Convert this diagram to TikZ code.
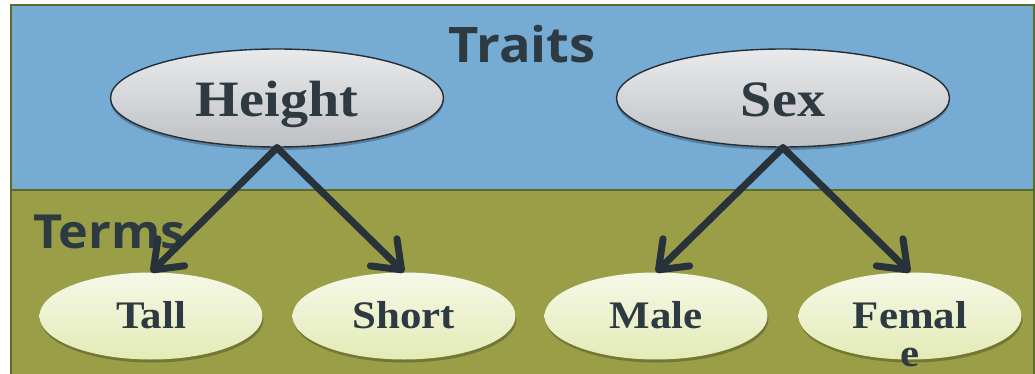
\documentclass[tikz,border=0pt]{standalone}
\usepackage{fontspec}
\newfontfamily\labfont{Open Sans}[FakeStretch=1.07]
\newfontfamily\nodefont{Liberation Serif}[FakeStretch=1.1]
\usetikzlibrary{shapes.geometric,arrows.meta,shadows}
\definecolor{bgblue}{HTML}{76ACD3}
\definecolor{bggreen}{HTML}{9A9E46}
\definecolor{framecol}{HTML}{5C6B2B}
\definecolor{inkcol}{HTML}{2E3A42}
\definecolor{arrowcol}{HTML}{28323A}
\definecolor{greytop}{HTML}{E9EAEC}
\definecolor{greybot}{HTML}{BEC1C4}
\definecolor{limetop}{HTML}{F6F8E8}
\definecolor{limebot}{HTML}{E3EBB5}
\begin{document}
\begin{tikzpicture}[x=1pt,y=-1pt,
  framestyle/.style={draw=framecol,line width=2pt},
  traitnode/.style={ellipse,inner sep=0pt,minimum width=333pt,minimum height=98pt,
    top color=greytop,bottom color=greybot,draw=inkcol!80!black,line width=1.4pt,
    text=inkcol,font=\nodefont\bfseries\fontsize{51}{60}\selectfont,text height=38pt,text depth=0pt,
    drop shadow={shadow xshift=0pt,shadow yshift=-3pt,opacity=0.25,fill=black}},
  termnode/.style={ellipse,inner sep=0pt,minimum width=223pt,minimum height=87pt,
    top color=limetop,bottom color=limebot,
    text=inkcol,font=\nodefont\bfseries\fontsize{39}{42}\selectfont,text height=24pt,text depth=0pt,
    drop shadow={shadow xshift=1pt,shadow yshift=-3pt,opacity=0.25,fill=black}},
  headline/.style={text=inkcol,font=\labfont\bfseries\fontsize{49}{58}\selectfont,inner sep=0pt},
  conn/.style={draw=arrowcol,line width=7pt,line cap=round,line join=round,
    -{Straight Barb[length=25pt,width=38pt,line cap=round,line join=round]}}
]
\useasboundingbox (0,0) rectangle (1035,374);
\begin{scope}
\clip (0,0) rectangle (1035,374);
\fill[bgblue] (11,5) rectangle (1034,190);
\fill[bggreen] (11,190) rectangle (1034,380);
\draw[framestyle] (11,380) -- (11,5) -- (1034,5) -- (1034,380);
\draw[framestyle] (11,190) -- (1034,190);
\end{scope}

\node[headline,anchor=base] (traits) at (522,63) {Traits};
\node[headline,anchor=base west,font=\labfont\bfseries\fontsize{47}{56}\selectfont] (terms) at (33,248) {Terms};

\node[traitnode] (height) at (277,98) {Height};
\node[traitnode] (sex) at (783,98) {Sex};

\node[termnode] (tall) at (151,316) {Tall};
\node[termnode] (short) at (404,316) {Short};
\node[termnode] (male) at (656,316) {Male};
\node[termnode,text width=150pt,align=center] (female) at (910,316) {Femal\\[-4pt]e};

\draw[conn] (height.south) -- (tall.north);
\draw[conn] (height.south) -- (short.north);
\draw[conn] (sex.south) -- (male.north);
\draw[conn] (sex.south) -- (female.north);
\end{tikzpicture}
\end{document}
